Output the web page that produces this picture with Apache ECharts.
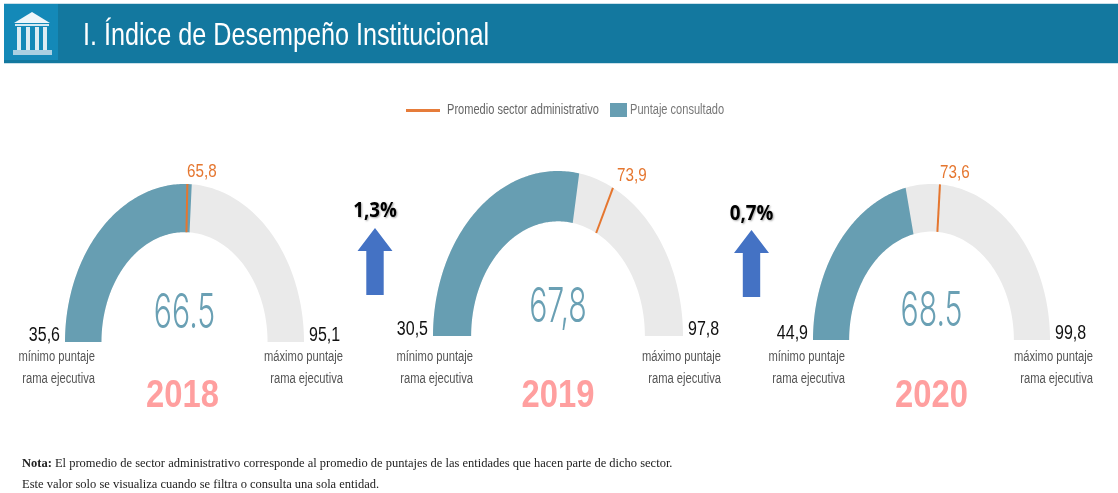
<!DOCTYPE html>
<html>
<head>
	<meta charset="UTF-8">
	<title>Índice de Desempeño Institucional</title>
	<style type="text/css">
		html, body { margin: 0; padding: 0; background: #fff; }
		#chart { width: 1118px; height: 493px; }
	</style>
</head>
<body>
	<div id="chart"></div>
	<script type="text/javascript" src="https://cdn.jsdelivr.net/npm/echarts@6/dist/echarts.min.js"></script>
	<script type="text/javascript">
		var years = ['2018', '2019', '2020']
		var minScores = [35.6, 30.5, 44.9]
		var maxScores = [95.1, 97.8, 99.8]
		var consulted = [66.5, 67.8, 68.5]
		var sectorAvg = [65.8, 73.9, 73.6]
		var consultedLabels = ['66.5', '67,8', '68.5']
		var changes = ['1,3%', '0,7%']

		var AVG_NAME = 'Promedio sector administrativo'
		var SCORE_NAME = 'Puntaje consultado'
		var SANS = '"Liberation Sans", sans-serif'
		var TEAL = '#679eb2'
		var ORANGE = '#e5762f'

		// caja de cada medidor en pixeles (el original esta estirado en vertical)
		var boxes = [
			{ left: 65, right: 304, top: 184, bottom: 342 },
			{ left: 433, right: 683, top: 171, bottom: 336 },
			{ left: 813, right: 1050, top: 184, bottom: 340 }
		]
		var INNER = 0.695

		function fraction (i, v) {
			return (v - minScores[i]) / (maxScores[i] - minScores[i])
		}

		function arcItem (params, api) {
			var i = api.value(0), from = fraction(i, api.value(1)), to = fraction(i, api.value(2))
			var outer = [], inner = []
			for (var k = 0; k <= 120; k++) {
				var t = Math.PI * (1 - (from + (to - from) * k / 120))
				outer.push(api.coord([Math.cos(t), Math.sin(t)]))
				inner.unshift(api.coord([INNER * Math.cos(t), INNER * Math.sin(t)]))
			}
			return {
				type: 'polygon',
				shape: { points: outer.concat(inner) },
				style: { fill: api.visual('color') }
			}
		}

		function markerItem (params, api) {
			var t = Math.PI * (1 - fraction(api.value(0), api.value(1)))
			var a = api.coord([Math.cos(t), Math.sin(t)])
			var b = api.coord([INNER * Math.cos(t), INNER * Math.sin(t)])
			return {
				type: 'line',
				z2: 10,
				shape: { x1: a[0], y1: a[1], x2: b[0], y2: b[1] },
				style: { stroke: ORANGE, lineWidth: 2 }
			}
		}

		var grids = [], xAxes = [], yAxes = [], series = [], graphics = []

		function txt (text, x, y, size, color, o) {
			o = o || {}
			graphics.push({
				type: 'text', x: x, y: y, z: 20,
				scaleX: o.scaleX || 1, scaleY: o.scaleY || 1,
				style: {
					text: text, fill: color, fontSize: size,
					fontFamily: o.font || SANS, fontWeight: o.weight || 'normal',
					textAlign: o.align || 'left', textVerticalAlign: 'middle',
					textShadowColor: o.shadow, textShadowBlur: o.shadow ? 2 : 0,
					textShadowOffsetX: o.shadow ? 1 : 0, textShadowOffsetY: o.shadow ? 1 : 0
				}
			})
		}

		function rect (x, y, w, h, fill) {
			graphics.push({ type: 'rect', shape: { x: x, y: y, width: w, height: h }, style: { fill: fill } })
		}

		// cabecera
		rect(4, 3, 1114, 61, '#c9e0ea')
		rect(4, 4, 1114, 59, '#13789f')
		rect(4, 4, 54, 56, '#1489b8')
		graphics.push({ type: 'polygon', shape: { points: [[32, 12], [14, 23], [50, 23]] }, style: { fill: '#eef6fa' } })
		rect(15, 24, 34, 2, '#d5e8f1')
		;[17, 26, 35, 43].forEach(function (x) {
			rect(x, 27, 4, 23, '#dcecf3')
		})
		rect(13, 50, 39, 5, '#a9d0e2')
		txt('I. Índice de Desempeño Institucional', 83, 36, 32, '#fff', { scaleX: 0.787 })

		// leyenda
		rect(406, 109, 34, 3, '#e67c3a')
		txt(AVG_NAME, 447, 110, 14, '#666', { scaleX: 0.79 })
		rect(610, 103, 17, 14, TEAL)
		txt(SCORE_NAME, 630, 110, 14, '#777', { scaleX: 0.79 })

		years.forEach(function (year, i) {
			var b = boxes[i]
			grids.push({ left: b.left, top: b.top, width: b.right - b.left, height: b.bottom - b.top })
			xAxes.push({ type: 'value', gridIndex: i, min: -1, max: 1, show: false })
			yAxes.push({ type: 'value', gridIndex: i, min: 0, max: 1, show: false })
			series.push({
				type: 'custom', name: 'Rango', xAxisIndex: i, yAxisIndex: i, silent: true,
				itemStyle: { color: '#eaeaea' }, renderItem: arcItem, z: 2,
				data: [[i, minScores[i], maxScores[i]]]
			})
			series.push({
				type: 'custom', name: SCORE_NAME, xAxisIndex: i, yAxisIndex: i, silent: true,
				itemStyle: { color: TEAL }, renderItem: arcItem, z: 3,
				data: [[i, minScores[i], consulted[i]]]
			})
			series.push({
				type: 'custom', name: AVG_NAME, xAxisIndex: i, yAxisIndex: i, silent: true,
				itemStyle: { color: ORANGE }, renderItem: markerItem, z: 4,
				data: [[i, sectorAvg[i]]]
			})

			var cx = (b.left + b.right) / 2
			txt(String(minScores[i]).replace('.', ','), b.left - 5, b.bottom - 7, 20, '#111', { align: 'right', scaleX: 0.8 })
			txt(String(maxScores[i]).replace('.', ','), b.right + 5, b.bottom - 7, 20, '#111', { scaleX: 0.8 })
			txt(consultedLabels[i], cx, b.bottom - 28, 48, '#6aa0b4', { align: 'center', scaleX: 0.63, font: 'Inter, sans-serif', weight: 300 })
			txt(year, cx - (i == 0 ? 2 : 0), 396, 39, '#ff9f9f', { align: 'center', weight: 'bold', scaleX: 0.84 })
		})

		var captionX = [[95, 343], [473, 721], [845, 1093]]
		captionX.forEach(function (c) {
			txt('mínimo puntaje', c[0], 357, 14, '#555', { align: 'right', scaleX: 0.8 })
			txt('rama ejecutiva', c[0], 379, 14, '#555', { align: 'right', scaleX: 0.8 })
			txt('máximo puntaje', c[1], 357, 14, '#555', { align: 'right', scaleX: 0.8 })
			txt('rama ejecutiva', c[1], 379, 14, '#555', { align: 'right', scaleX: 0.8 })
		})

		var avgLabelPos = [[187, 172], [617, 176], [940, 173]]
		avgLabelPos.forEach(function (p, i) {
			txt(String(sectorAvg[i]).replace('.', ','), p[0], p[1], 19, ORANGE, { scaleX: 0.8 })
		})

		// flechas de variacion
		var arrows = [{ cx: 375, top: 228, neck: 251, bottom: 295, labelY: 211 }, { cx: 751.5, top: 230, neck: 253, bottom: 297, labelY: 214 }]
		arrows.forEach(function (a, i) {
			graphics.push({
				type: 'polygon',
				shape: { points: [[a.cx, a.top], [a.cx + 17.5, a.neck], [a.cx + 8.7, a.neck], [a.cx + 8.7, a.bottom], [a.cx - 8.7, a.bottom], [a.cx - 8.7, a.neck], [a.cx - 17.5, a.neck]] },
				style: { fill: '#4472c4' }
			})
			txt(changes[i], a.cx, a.labelY, 22, '#000', { align: 'center', weight: 'bold', font: '"Open Sans", sans-serif', shadow: 'rgba(0,0,0,0.35)', scaleX: 0.85 })
		})

		// nota
		graphics.push({
			type: 'text', x: 22, y: 464, z: 20,
			style: {
				text: '{b|Nota:} El promedio de sector administrativo corresponde al promedio de puntajes de las entidades que hacen parte de dicho sector.',
				fill: '#222', fontSize: 12.5, fontFamily: '"Liberation Serif", serif', textVerticalAlign: 'middle',
				rich: { b: { fontWeight: 'bold', fontSize: 12.5, fontFamily: '"Liberation Serif", serif', fill: '#222' } }
			}
		})
		graphics.push({
			type: 'text', x: 22, y: 485, z: 20,
			style: {
				text: 'Este valor solo se visualiza cuando se filtra o consulta una sola entidad.',
				fill: '#222', fontSize: 12.5, fontFamily: '"Liberation Serif", serif', textVerticalAlign: 'middle'
			}
		})

		var option = {
			animation: false,
			grid: grids,
			xAxis: xAxes,
			yAxis: yAxes,
			series: series,
			graphic: graphics
		}

		var chart = echarts.init(document.getElementById('chart'))
		chart.setOption(option)
	</script>
</body>
</html>
